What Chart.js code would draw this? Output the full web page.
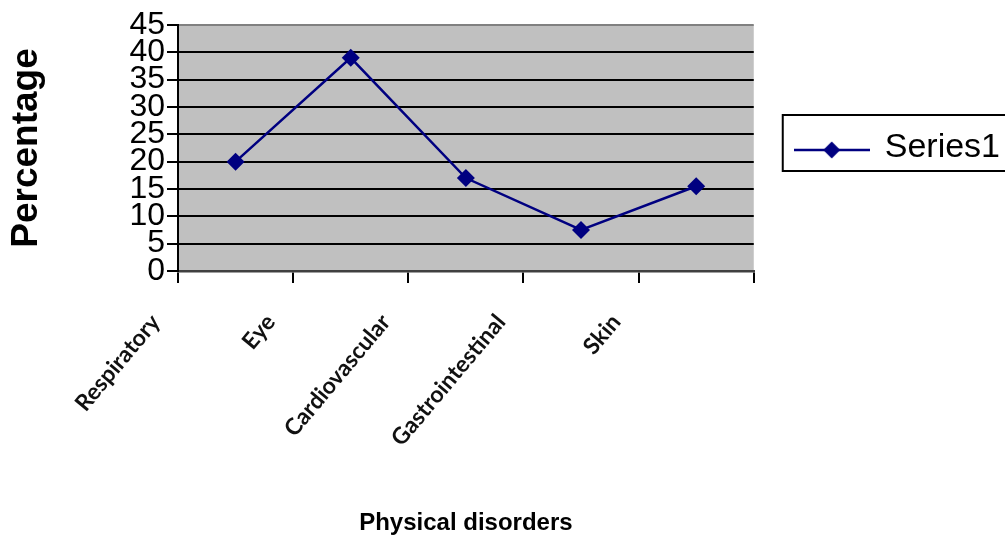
<!DOCTYPE html>
<html>
<head>
<meta charset="utf-8">
<script src="https://cdn.jsdelivr.net/npm/chart.js@4.4.1/dist/chart.umd.min.js"></script>
<style>
  html, body { margin: 0; padding: 0; background: #fff; }
  #wrap { width: 1005px; height: 538px; }
</style>
</head>
<body>
<div id="wrap"><canvas id="chart" width="1005" height="538"></canvas></div>
<script>
const categories = ['Respiratory', 'Eye', 'Cardiovascular', 'Gastrointestinal', 'Skin'];
const seriesValues = [20, 39, 17, 7.5, 15.5];
const seriesName = 'Series1';
const yMin = 0, yMax = 45, yStep = 5;

const NAVY = '#000080';

// legend icon: line with a diamond in the middle
const legendIcon = document.createElement('canvas');
legendIcon.width = 76;
legendIcon.height = 30;
(function () {
    const c = legendIcon.getContext('2d');
    c.strokeStyle = NAVY;
    c.lineWidth = 2.5;
    c.beginPath();
    c.moveTo(0, 17);
    c.lineTo(76, 17);
    c.stroke();
    c.fillStyle = NAVY;
    c.beginPath();
    c.moveTo(38, 8.5);
    c.lineTo(46.5, 17);
    c.lineTo(38, 25.5);
    c.lineTo(29.5, 17);
    c.closePath();
    c.fill();
})();

// gray plot background + legend frame
const chartDecor = {
    id: 'chartDecor',
    beforeDraw(chart) {
        const a = chart.chartArea;
        const ctx = chart.ctx;
        ctx.save();
        ctx.fillStyle = '#fff';
        ctx.fillRect(0, 0, chart.width, chart.height);
        ctx.fillStyle = '#c0c0c0';
        ctx.fillRect(a.left, a.top, a.right - a.left, a.bottom - a.top);
        ctx.restore();
    },
    afterDraw(chart) {
        const hb = chart.legend && chart.legend.legendHitBoxes && chart.legend.legendHitBoxes[0];
        if (!hb) return;
        const ctx = chart.ctx;
        ctx.save();
        ctx.strokeStyle = '#000';
        ctx.lineWidth = 2;
        ctx.strokeRect(hb.left - 13, hb.top - 16, hb.width + 60, hb.height + 22);
        ctx.restore();
    }
};

new Chart(document.getElementById('chart').getContext('2d'), {
    type: 'line',
    data: {
        labels: categories,
        datasets: [{
            label: seriesName,
            data: seriesValues,
            borderColor: NAVY,
            backgroundColor: NAVY,
            borderWidth: 2.5,
            pointStyle: 'rectRot',
            pointRadius: 9,
            pointBorderWidth: 0,
            pointBackgroundColor: NAVY,
            tension: 0,
            fill: false
        }]
    },
    options: {
        responsive: false,
        animation: false,
        layout: { padding: { top: 25, right: 0, left: 0, bottom: 0 } },
        plugins: {
            tooltip: { enabled: false },
            legend: {
                position: 'right',
                fullSize: false,
                labels: {
                    usePointStyle: true,
                    pointStyle: legendIcon,
                    pointStyleWidth: 72,
                    padding: 42,
                    color: '#000',
                    font: { family: 'Liberation Sans, Arial', size: 34 }
                }
            }
        },
        scales: {
            x: {
                offset: true,
                afterFit(scale) { scale.height = 267; },
                grid: {
                    offset: true,
                    drawOnChartArea: true,
                    lineWidth: 2,
                    tickLength: 12,
                    tickColor: '#000',
                    color: (c) => c.index === 0 ? '#000' : (c.index === categories.length ? '#808080' : 'rgba(0,0,0,0)')
                },
                border: { color: '#404040', width: 2.5 },
                ticks: {
                    autoSkip: false,
                    maxRotation: 50,
                    minRotation: 50,
                    labelOffset: -80,
                    padding: 26,
                    color: '#111',
                    font: { family: 'Lato', weight: 'bold', size: 23 }
                },
                title: {
                    display: true,
                    text: 'Physical disorders',
                    color: '#000',
                    padding: { top: 0, bottom: 0 },
                    font: { family: 'Liberation Sans, Arial', weight: 'bold', size: 24 }
                }
            },
            y: {
                min: yMin,
                max: yMax,
                afterFit(scale) { scale.width = 178; },
                grid: {
                    lineWidth: 2,
                    tickLength: 11,
                    tickColor: '#000',
                    color: (c) => c.tick && c.tick.value === yMax ? '#808080' : '#000'
                },
                border: { color: '#000', width: 2 },
                ticks: {
                    stepSize: yStep,
                    autoSkip: false,
                    padding: 2,
                    color: '#000',
                    font: { family: 'Liberation Sans, Arial', size: 32, lineHeight: 0.85 }
                },
                title: {
                    display: true,
                    text: 'Percentage',
                    color: '#000',
                    padding: { top: 5, bottom: 0 },
                    font: { family: 'Liberation Sans, Arial', weight: 'bold', size: 37 }
                }
            }
        }
    },
    plugins: [chartDecor]
});
</script>
</body>
</html>
